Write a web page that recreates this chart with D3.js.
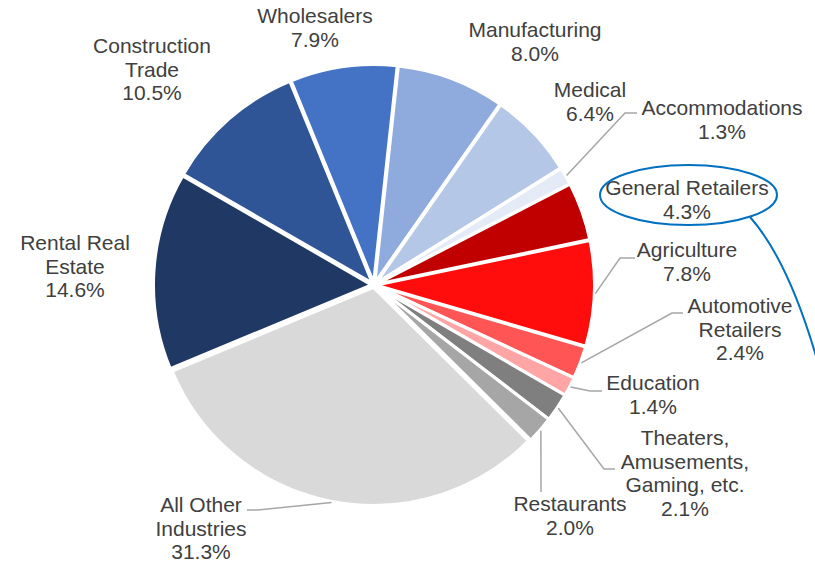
<!DOCTYPE html>
<html>
<head>
<meta charset="utf-8">
<script src="https://cdn.jsdelivr.net/npm/d3@7"></script>
<style>
  html, body { margin: 0; padding: 0; background: #ffffff; }
  svg { display: block; }
</style>
</head>
<body>
<svg id="chart" width="815" height="564"></svg>
<script>
// ---- data ----
const categories = [
  "Manufacturing", "Medical", "Accommodations", "General Retailers", "Agriculture",
  "Automotive Retailers", "Education", "Theaters, Amusements, Gaming, etc.", "Restaurants",
  "All Other Industries", "Rental Real Estate", "Construction Trade", "Wholesalers"
];
const shares = [8.0, 6.4, 1.3, 4.3, 7.8, 2.4, 1.4, 2.1, 2.0, 31.3, 14.6, 10.5, 7.9];
const labelLines = [
  ["Manufacturing"], ["Medical"], ["Accommodations"], ["General Retailers"], ["Agriculture"],
  ["Automotive", "Retailers"], ["Education"], ["Theaters,", "Amusements,", "Gaming, etc."], ["Restaurants"],
  ["All Other", "Industries"], ["Rental Real", "Estate"], ["Construction", "Trade"], ["Wholesalers"]
];

// ---- styles / layout ----
const palette = ["#8FAADC", "#B4C7E7", "#E4EBF7", "#C00000", "#FF0D0D",
                 "#FF5555", "#FFA5A5", "#7F7F7F", "#A6A6A6",
                 "#D9D9D9", "#1F3864", "#2F5597", "#4472C4"];
// label anchor (centre x, first baseline y) and leader elbow points
const labelLayout = [
  {x: 535, y: 37},
  {x: 590, y: 97},
  {x: 722, y: 115, leader: [[625, 113], [637, 113]]},
  {x: 687, y: 195},
  {x: 687, y: 257, leader: [[620, 258], [635, 258]]},
  {x: 740, y: 313, leader: [[672, 313], [683, 313]]},
  {x: 653, y: 390, leader: [[590, 391], [602, 391]]},
  {x: 685, y: 445, leader: [[604, 469], [615, 469]]},
  {x: 570, y: 511, leader: [[541, 492]]},
  {x: 201, y: 512, leader: [[258, 510], [247, 510]]},
  {x: 75,  y: 250},
  {x: 152, y: 53},
  {x: 315, y: 23}
];

const W = 815, H = 564;
const cx = 374, cy = 285, R = 218, explode = 2.5;
const lineH = 23.5;
const startDeg = 6.2;

const svg = d3.select("#chart");
const pie = d3.pie().sort(null).value(d => d)
  .startAngle(startDeg * Math.PI / 180)
  .endAngle(startDeg * Math.PI / 180 + 2 * Math.PI);
const arcs = pie(shares);
const arc = d3.arc().innerRadius(0).outerRadius(R);

const g = svg.append("g").attr("transform", `translate(${cx},${cy})`);
g.selectAll("path.slice").data(arcs).join("path")
  .attr("class", "slice")
  .attr("d", arc)
  .attr("fill", (d, i) => palette[i])
  .attr("stroke", "#ffffff")
  .attr("stroke-width", 3)
  .attr("stroke-linejoin", "round")
  .attr("transform", d => {
    const a = (d.startAngle + d.endAngle) / 2;
    return `translate(${Math.sin(a) * explode},${-Math.cos(a) * explode})`;
  });

// leader lines
arcs.forEach((d, i) => {
  const lay = labelLayout[i];
  if (!lay.leader) return;
  const a = (d.startAngle + d.endAngle) / 2;
  const r0 = R + explode + 1;
  const p0 = [cx + Math.sin(a) * r0, cy - Math.cos(a) * r0];
  const pts = [p0].concat(lay.leader);
  svg.append("path")
    .attr("d", d3.line()(pts))
    .attr("fill", "none")
    .attr("stroke", "#A6A6A6")
    .attr("stroke-width", 1.5);
});

// labels
const fmt = v => v.toFixed(1) + "%";
arcs.forEach((d, i) => {
  const lay = labelLayout[i];
  const lines = labelLines[i].concat([fmt(shares[i])]);
  const t = svg.append("text")
    .attr("text-anchor", "middle")
    .attr("font-family", "'Liberation Sans', Arial, sans-serif")
    .attr("font-size", 21)
    .attr("fill", "#404040");
  lines.forEach((ln, k) => {
    t.append("tspan").attr("x", lay.x).attr("y", lay.y + k * lineH).text(ln);
  });
});

// highlight ellipse around General Retailers and connector curve
svg.append("ellipse")
  .attr("cx", 688.5).attr("cy", 195).attr("rx", 88.5).attr("ry", 30)
  .attr("fill", "none").attr("stroke", "#0070C0").attr("stroke-width", 2);
svg.append("path")
  .attr("d", "M750,217 Q790,262 820,370")
  .attr("fill", "none").attr("stroke", "#0070C0").attr("stroke-width", 2);
</script>
</body>
</html>
